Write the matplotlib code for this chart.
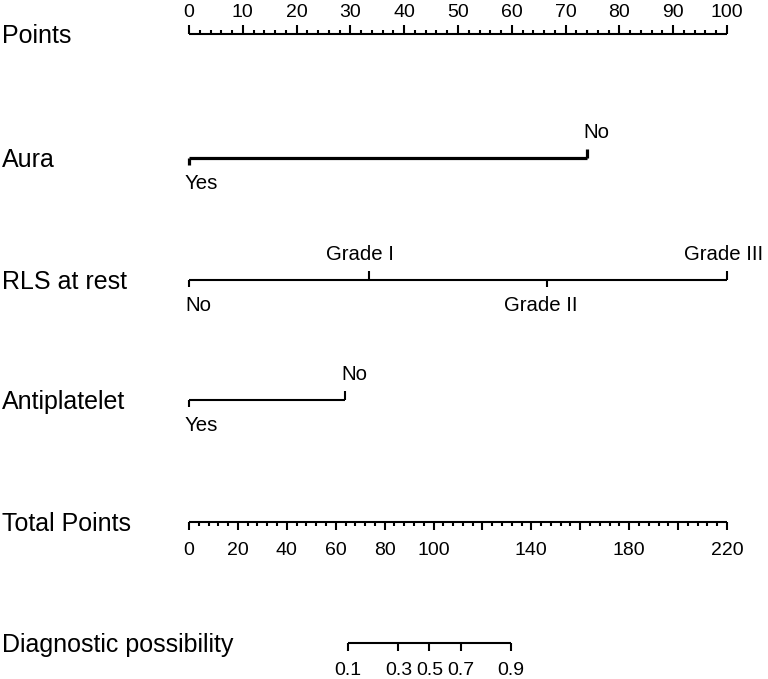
import matplotlib
matplotlib.use("Agg")
import matplotlib.pyplot as plt
import matplotlib.transforms as mtransforms
import numpy as np

# path to save graph
IMG_OUT = "out.png"

plt.rcParams['font.family'] = ['Liberation Sans', 'DejaVu Sans']

# points scale
points_ticks = list(range(0, 101, 10))

# variables: level names, points for each level, label side (1 above, -1 below)
aura_levels = ["Yes", "No"]
aura_points = [0, 74]
aura_side = [-1, 1]

rls_levels = ["No", "Grade I", "Grade II", "Grade III"]
rls_points = [0, 33.5, 66.5, 100]
rls_side = [-1, 1, -1, 1]

anti_levels = ["Yes", "No"]
anti_points = [0, 29]
anti_side = [-1, 1]

# total points scale
total_max = 220
total_labels = [0, 20, 40, 60, 80, 100, 140, 180, 220]

# diagnostic possibility vs total points
diag_probs = ["0.1", "0.3", "0.5", "0.7", "0.9"]
diag_total = [65.1, 85.6, 98.3, 111.2, 131.5]

# row heights in pixels (from top)
ROW_Y = {"Points": 34, "Aura": 158, "RLS at rest": 280,
	"Antiplatelet": 400, "Total Points": 522,
	"Diagnostic possibility": 643}

LW = 1.5
BIG = 18
TICK = 14
LEVEL = 14.7

fig = plt.figure(figsize=(7.68, 6.79), dpi=100)
ax = fig.add_axes([189 / 768, 0, 538 / 768, 1])
ax.set_xlim(0, 100)
ax.set_ylim(679, 0)
ax.axis('off')

# px per point unit
PX = 538 / 100


def tot2pts(v):
	return np.asarray(v, dtype=float) * 100 / total_max


def seg(x0, x1, y0, y1, lw=LW):
	ax.plot([x0, x1], [y0, y1], color='black', lw=lw,
		solid_capstyle='butt', clip_on=False)


# row labels on the far left
lab_tr = mtransforms.blended_transform_factory(fig.transFigure, ax.transData)
for name, y in ROW_Y.items():
	ax.text(2 / 768, y + 9, name, transform=lab_tr, fontsize=BIG,
		ha='left', va='baseline')

# Points axis, ticks pointing up
y = ROW_Y["Points"]
seg(0, 100, y, y)
for v in np.arange(0, 100.1, 2):
	major = (round(v) % 10 == 0)
	seg(v, v, y, y - (9 if major else 4.5))
for v in points_ticks:
	ax.text(v, y - 17, str(v), fontsize=TICK, ha='center',
		va='baseline')


# draw one variable line
# level labels start a little left of their tick (long ones more)
def variable(name, pts, levels, sides, lw=LW):
	y = ROW_Y[name]
	seg(min(pts), max(pts), y, y, lw)
	for p, lev, s in zip(pts, levels, sides):
		shift = (43 if lev.startswith("Grade") else 4) / PX
		if s > 0:
			seg(p, p, y, y - 9, lw)
			ax.text(p - shift, y - 20, lev, fontsize=LEVEL,
				ha='left', va='baseline')
		else:
			seg(p, p, y, y + 7, lw)
			ax.text(p - shift, y + 31, lev, fontsize=LEVEL,
				ha='left', va='baseline')


variable("Aura", aura_points, aura_levels, aura_side, lw=2.3)
variable("RLS at rest", rls_points, rls_levels, rls_side)
variable("Antiplatelet", anti_points, anti_levels, anti_side)

# Total Points axis, ticks pointing down
y = ROW_Y["Total Points"]
seg(0, 100, y, y)
for v in range(0, total_max + 1, 4):
	major = (v % 20 == 0)
	x = tot2pts(v)
	seg(x, x, y, y + (8 if major else 4))
for v in total_labels:
	ax.text(tot2pts(v), y + 33, str(v), fontsize=TICK, ha='center',
		va='baseline')

# Diagnostic possibility axis
y = ROW_Y["Diagnostic possibility"]
xs = tot2pts(diag_total)
seg(xs[0], xs[-1], y, y)
for x, lab in zip(xs, diag_probs):
	seg(x, x, y, y + 8)
	ax.text(x, y + 32, lab, fontsize=TICK, ha='center', va='baseline')

print("saving plot as \"{0}\"".format(IMG_OUT))
fig.savefig(IMG_OUT, dpi=100)
